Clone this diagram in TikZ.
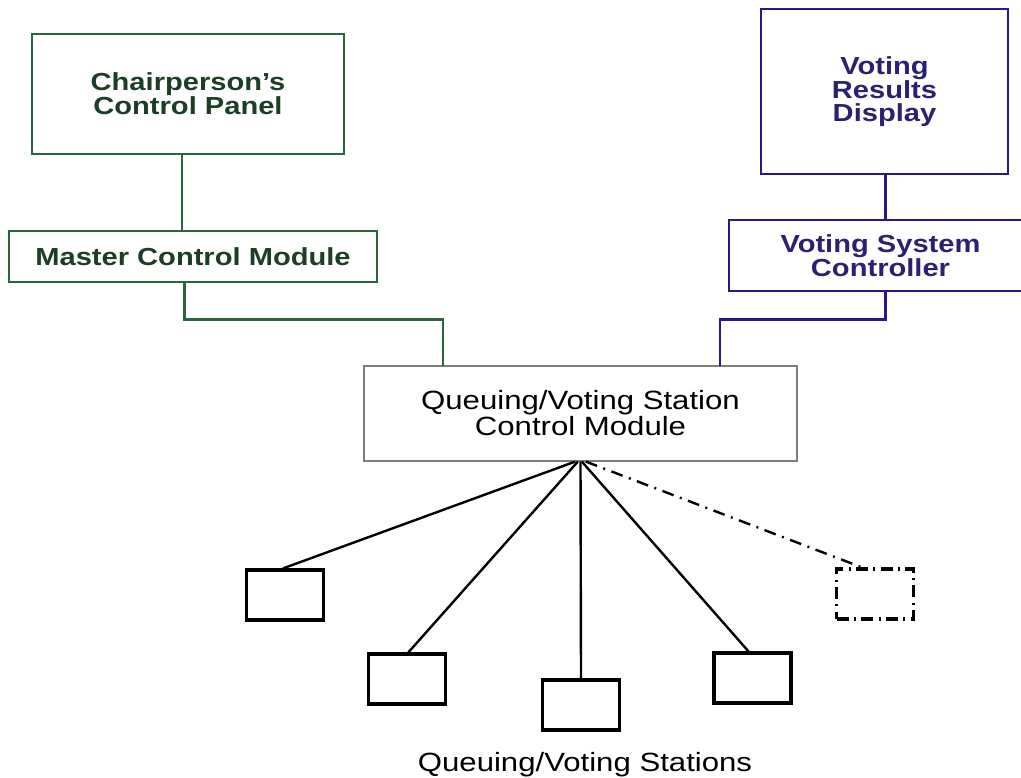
\documentclass[tikz,border=0pt]{standalone}
\usepackage{fontspec}
\setmainfont[FakeStretch=1.18]{Liberation Sans}
\usetikzlibrary{calc, positioning}

\definecolor{cpgreen}{RGB}{45,100,60}
\definecolor{cpgreentext}{RGB}{28,62,36}
\definecolor{vrpurple}{RGB}{48,22,130}
\definecolor{vrpurpletext}{RGB}{42,34,112}
\definecolor{qvgray}{RGB}{125,125,125}

\begin{document}
\begin{tikzpicture}
    [
        x=0.75pt, y=-0.75pt,
        gbox/.style={draw=cpgreen, line width=2.1pt, text=cpgreentext, align=center,
            font=\fontsize{18.5}{18}\selectfont\bfseries},
        pbox/.style={draw=vrpurple, line width=2.1pt, text=vrpurpletext, align=center,
            font=\fontsize{18.5}{17.3}\selectfont\bfseries},
        qbox/.style={draw=qvgray, line width=0.9pt, align=center,
            font=\fontsize{19.8}{16.5}\selectfont},
        stbox/.style={draw, line width=2.4pt, minimum width=57.75pt, minimum height=37.5pt},
        dbox/.style={stbox, dash pattern=on 9pt off 4pt on 1.5pt off 4pt}
    ]
    \tikzstyle{gline} = [draw=cpgreen, line width=2.1pt]
    \tikzstyle{pline} = [draw=vrpurple, line width=2.1pt]
    \tikzstyle{fan} = [draw, line width=1.8pt]
    \tikzstyle{dfan} = [fan, dash pattern=on 9pt off 5pt on 1.5pt off 5pt]

    \useasboundingbox (0,0) rectangle (1021,778);
    \clip (0,0) rectangle (1021,778);

    % left branch
    \node[gbox, minimum width=234pt, minimum height=90pt] (chair) at (188,94) {Chairperson's\\Control Panel};
    \node[gbox, minimum width=276pt, minimum height=38.25pt] (mcm) at (193,256.5) {Master Control Module};

    % right branch
    \node[pbox, minimum width=185.25pt, minimum height=123.75pt] (vrd) at (884.5,91.5) {Voting\\Results\\Display};
    \node[pbox, minimum width=227.25pt, minimum height=53.25pt] (vsc) at (880.5,255.5) {Voting System\\Controller};

    % station control module
    \node[qbox, minimum width=324.75pt, minimum height=71.25pt] (qvs) at (580.5,413.5) {Queuing/Voting Station\\Control Module};
    \coordinate (gin) at (443,366);
    \coordinate (pin) at (720,366);

    % stations
    \node[stbox] (st1) at (285,595) {};
    \node[stbox] (st2) at (407,679) {};
    \node[stbox] (st3) at (581,705) {};
    \node[stbox] (st4) at (752.5,678) {};
    \node[dbox] (st5) at (875,594) {};
    \node[font=\fontsize{19.8}{20}\selectfont] (stations) at (585,765) {Queuing/Voting Stations};

    \path[gline] ([xshift=-4.5pt]chair.south) -- ([xshift=-4.5pt]chair.south |- mcm.north);
    \path[gline] ([xshift=-6.5pt]mcm.south) -- ++(0,36) -| (gin);
    \path[pline] ([xshift=1pt]vrd.south) -- ([xshift=1pt]vrd.south |- vsc.north);
    \path[pline] ([xshift=1pt]vrd.south |- vsc.south) -- ++(0,27) -| (pin);

    \path[fan] ([xshift=-4pt]qvs.south) -- ([xshift=-1.5pt]st1.north);
    \path[fan] ([xshift=-2pt]qvs.south) -- ([xshift=1pt]st2.north);
    \path[fan] (qvs.south) -- (st3.north);
    \path[fan] ([xshift=1pt]qvs.south) -- ([xshift=-3pt]st4.north);
    \path[dfan] ([xshift=4pt]qvs.south) -- ([xshift=-9.75pt]st5.north);

\end{tikzpicture}
\end{document}
